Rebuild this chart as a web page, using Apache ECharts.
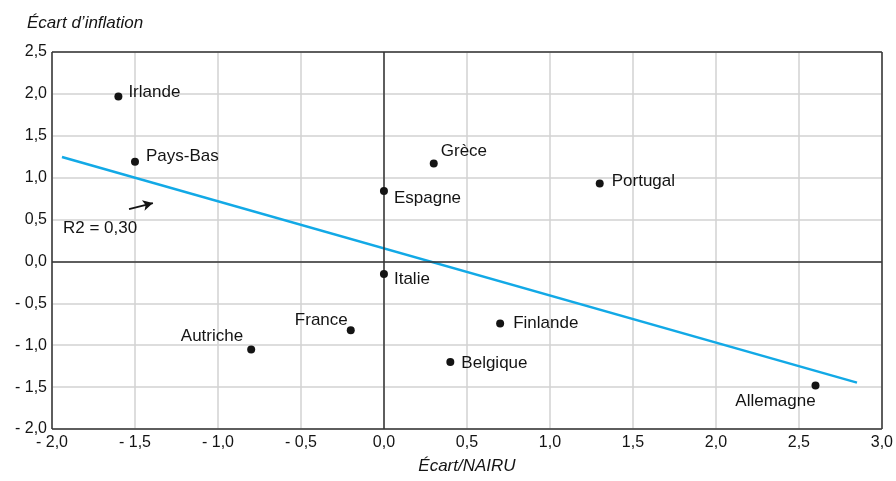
<!DOCTYPE html>
<html>
<head>
<meta charset="utf-8">
<script src="https://cdn.jsdelivr.net/npm/echarts@6/dist/echarts.min.js"></script>
<style>
  html, body { margin: 0; padding: 0; background: #fff; }
  #chart { width: 896px; height: 481px; }
</style>
</head>
<body>
<div id="chart"></div>
<script>
// Inflation gap vs. unemployment gap to NAIRU, euro-area countries
const countries = ['Irlande', 'Pays-Bas', 'Grèce', 'Espagne', 'Italie', 'Portugal',
                   'Finlande', 'Belgique', 'France', 'Autriche', 'Allemagne'];
const ecartNairu     = [-1.60, -1.50, 0.30, 0.00, 0.00, 1.30, 0.70, 0.40, -0.20, -0.80, 2.60];
const ecartInflation = [ 1.97,  1.19, 1.17, 0.84, -0.15, 0.93, -0.74, -1.20, -0.82, -1.05, -1.48];

// Fitted trend line (end points)
const trendX = [-1.94, 2.85];
const trendY = [1.246, -1.447];

// Axis ranges
const xRange = [-2, 3];
const yRange = [-2, 2.5];

// Annotation
const r2Text = 'R2 = 0,30';
const r2Pos = [-1.934, 0.40];
const arrowFrom = [-1.536, 0.625];
const arrowTo = [-1.392, 0.697];

// Label placement for each country
const labelPlacement = {
  'Irlande':   { position: 'right', distance: 6, offset: [0, -4] },
  'Pays-Bas':  { position: 'right', distance: 7, offset: [0, -5] },
  'Grèce':     { position: 'right', distance: 3, offset: [0, -12] },
  'Espagne':   { position: 'right', distance: 6, offset: [0, 7] },
  'Italie':    { position: 'right', distance: 6, offset: [0, 5] },
  'Portugal':  { position: 'right', distance: 8, offset: [0, -2] },
  'Finlande':  { position: 'right', distance: 9, offset: [0, 0] },
  'Belgique':  { position: 'right', distance: 7, offset: [0, 1] },
  'France':    { position: 'left',  distance: -1, offset: [0, -10] },
  'Autriche':  { position: 'left',  distance: 4, offset: [0, -13] },
  'Allemagne': { position: 'bottom', distance: 3, offset: [-40, 0] }
};

const FONT = '"Liberation Sans", Arial, Helvetica, sans-serif';
const INK = '#141414';
const fmt = v => (v < 0 ? '- ' : '') + Math.abs(v).toFixed(1).replace('.', ',');

const points = countries.map((name, i) => ({
  name,
  value: [ecartNairu[i], ecartInflation[i]],
  label: Object.assign({ show: true }, labelPlacement[name])
}));

const chart = echarts.init(document.getElementById('chart'), null, { renderer: 'canvas' });
chart.setOption({
  animation: false,
  backgroundColor: '#ffffff',
  textStyle: { fontFamily: FONT },
  grid: { left: 52, right: 14, top: 52, bottom: 52 },
  graphic: [{
    type: 'text', left: 27, top: 15,
    style: { text: 'Écart d’inflation', font: 'italic 17px ' + FONT, fill: INK }
  }],
  xAxis: {
    type: 'value', min: xRange[0], max: xRange[1], interval: 0.5,
    name: 'Écart/NAIRU', nameLocation: 'middle', nameGap: 29,
    nameTextStyle: { fontStyle: 'italic', fontSize: 17, color: INK, fontFamily: FONT },
    axisLine: { show: false, onZero: false },
    axisTick: { show: false },
    axisLabel: { formatter: fmt, fontSize: 16, color: INK, margin: 6, fontFamily: FONT },
    splitLine: { show: true, lineStyle: { color: '#d2d2d2', width: 1.5 } }
  },
  yAxis: {
    type: 'value', min: yRange[0], max: yRange[1], interval: 0.5,
    axisLine: { show: false, onZero: false },
    axisTick: { show: false },
    axisLabel: { formatter: fmt, fontSize: 16, color: INK, margin: 5, fontFamily: FONT },
    splitLine: { show: true, lineStyle: { color: '#d2d2d2', width: 1.5 } }
  },
  series: [
    {
      type: 'line',
      data: trendX.map((x, i) => [x, trendY[i]]),
      symbol: 'none',
      lineStyle: { color: '#12a9e6', width: 2.5 },
      z: 3,
      // zero lines and plot frame
      markLine: {
        silent: true,
        symbol: 'none',
        label: { show: false },
        lineStyle: { color: '#333', width: 1.5, type: 'solid' },
        data: [
          { xAxis: 0 }, { yAxis: 0 },
          { xAxis: xRange[0] }, { xAxis: xRange[1] },
          { yAxis: yRange[0] }, { yAxis: yRange[1] }
        ]
      }
    },
    {
      type: 'scatter',
      data: points,
      symbol: 'circle',
      symbolSize: 8,
      itemStyle: { color: INK, opacity: 1 },
      label: { color: INK, fontSize: 17, fontFamily: FONT, formatter: '{b}', opacity: 1 },
      z: 5
    },
    {
      type: 'scatter',
      data: [{ name: r2Text, value: r2Pos }],
      symbolSize: 0,
      itemStyle: { opacity: 1 },
      label: { show: true, position: 'right', distance: 0, formatter: '{b}',
               color: INK, fontSize: 17, fontFamily: FONT, opacity: 1 },
      markLine: {
        silent: true,
        symbol: ['none', 'arrow'],
        symbolSize: [8, 10],
        label: { show: false },
        lineStyle: { color: INK, width: 1.8, type: 'solid' },
        data: [[{ coord: arrowFrom }, { coord: arrowTo }]]
      },
      z: 5
    }
  ]
});
</script>
</body>
</html>
